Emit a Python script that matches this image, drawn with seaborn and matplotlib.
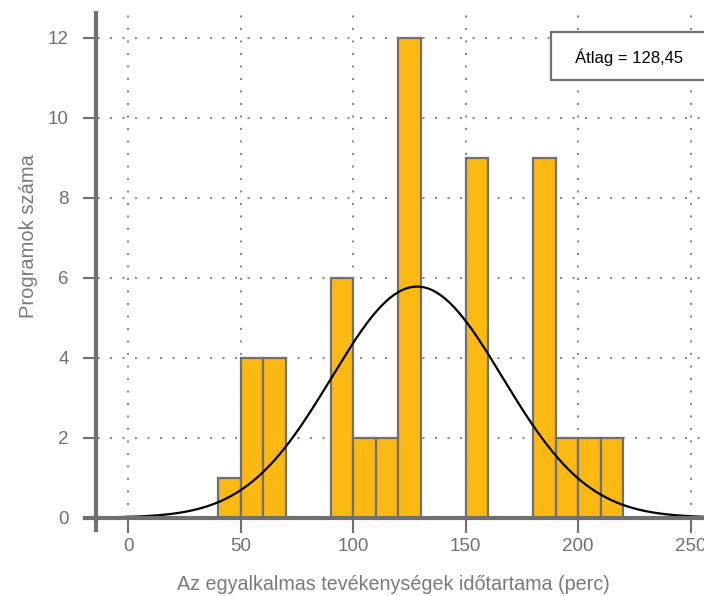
import numpy as np
import pandas as pd
import matplotlib
matplotlib.use("Agg")
import matplotlib.pyplot as plt
from matplotlib.patches import Rectangle
import seaborn as sns

# Histogram bins (perc) and program counts per bin
bin_left = [40, 50, 60, 70, 80, 90, 100, 110, 120, 130, 140, 150, 160, 170, 180, 190, 200, 210]
counts = [1, 4, 4, 0, 0, 6, 2, 2, 12, 0, 0, 9, 0, 0, 9, 2, 2, 2]
bin_width = 10

# Summary statistics used for the normal curve
mean_value = 128.45
sd_value = 38.0
n_total = sum(counts)

x_ticks = [0, 50, 100, 150, 200, 250]
y_ticks = [0, 2, 4, 6, 8, 10, 12]

x_label = "Az egyalkalmas tevékenységek időtartama (perc)"
y_label = "Programok száma"
mean_text = "Átlag = " + f"{mean_value:.2f}".replace(".", ",")

sns.set_theme(style="white")
plt.rcParams["font.family"] = ["Liberation Sans", "DejaVu Sans"]

GRAY = "#707070"
BAR = "#FDB913"

fig = plt.figure(figsize=(7.04, 5.96), dpi=100)
ax = fig.add_axes([85 / 704, 1 - 530 / 596, 1 - 85 / 704, (530 - 12.7) / 596])

df = pd.DataFrame({
    "center": [b + bin_width / 2 for b in bin_left],
    "count": counts,
})
edges = bin_left + [bin_left[-1] + bin_width]
sns.histplot(data=df, x="center", weights="count", bins=edges, ax=ax,
             color=BAR, alpha=1, edgecolor=GRAY, linewidth=1.6, zorder=2)

# Fitted normal curve scaled to counts
xs = np.linspace(-10, 262, 500)
ys = n_total * bin_width * np.exp(-0.5 * ((xs - mean_value) / sd_value) ** 2) / (sd_value * np.sqrt(2 * np.pi))
sns.lineplot(x=xs, y=ys, ax=ax, color="black", linewidth=1.6, zorder=3)

ax.set_xlim(-19.2, 256)
ax.set_ylim(-0.31, 12.62)
ax.set_xticks(x_ticks)
ax.set_yticks(y_ticks)

ax.grid(True, color="#8a8a8a", linestyle=(0, (1, 5)), linewidth=1.5, zorder=0)
ax.set_axisbelow(True)

for s in ["top", "right"]:
    ax.spines[s].set_visible(False)
ax.spines["left"].set_position(("data", -14.3))
ax.spines["bottom"].set_position(("data", 0))
for s in ["left", "bottom"]:
    ax.spines[s].set_color(GRAY)
    ax.spines[s].set_linewidth(3)
    ax.spines[s].set_zorder(4)

ax.tick_params(axis="y", direction="out", length=9.5, width=1.5, color=GRAY,
               labelsize=13.5, labelcolor=GRAY, pad=10, left=True)
ax.tick_params(axis="x", direction="out", length=11, width=1.5, color=GRAY,
               labelsize=13.5, labelcolor=GRAY, pad=4, bottom=True)

ax.set_xlabel(x_label, fontsize=14.2, color="#7a7a7a")
ax.set_ylabel(y_label, fontsize=14.5, color="#7a7a7a")
ax.xaxis.set_label_coords(0.4976, -0.087)
ax.yaxis.set_label_coords(-0.076, 0.568)

# Mean annotation box
fig.patches.append(Rectangle((551 / 704, 1 - 80 / 596), 0.3, 48 / 596,
                             transform=fig.transFigure, facecolor="white",
                             edgecolor=GRAY, linewidth=1.6, zorder=5))
fig.text(629 / 704, 1 - 57 / 596, mean_text, ha="center", va="center",
         fontsize=12, color="black", zorder=6)

fig.savefig("out.png", dpi=100)
